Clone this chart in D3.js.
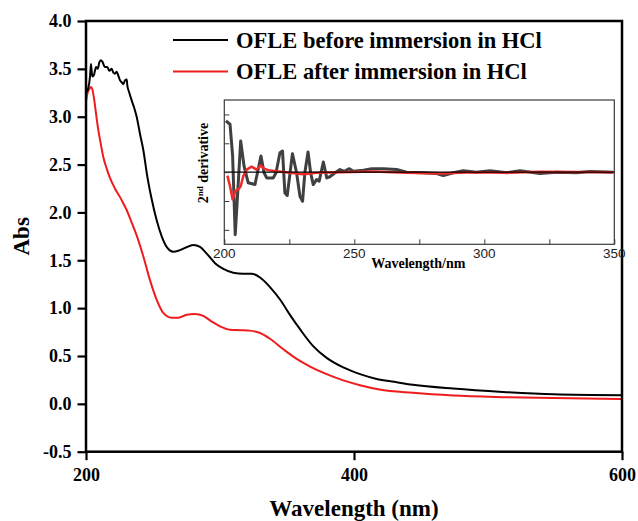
<!DOCTYPE html>
<html>
<head>
<meta charset="utf-8">
<script src="https://cdn.jsdelivr.net/npm/d3@7"></script>
<style>
  html, body { margin: 0; padding: 0; background: #fff; }
  svg { display: block; }
</style>
</head>
<body>
<svg id="chart" width="638" height="521"></svg>
<script>
// UV-Vis absorbance spectra of OFLE (wavelength in nm, absorbance)
const beforeWl = [200.5, 201.7, 203, 203.7, 204.7, 206, 207.5, 208.7, 210, 211, 212.4, 214, 215.9, 217.4, 219.2, 220.4, 221.6, 222.9, 224.1, 225.4, 226.6, 227.8, 229.1, 230.4, 230.8, 232.1, 234.1, 235.8, 237.8, 240.3, 242.8, 245.7, 249, 252.7, 256.5, 260.2, 265.2, 268.9, 273.9, 280.1, 285.1, 290.1, 296.3, 302.5, 309.9, 317.4, 323.6, 329.9, 337.3, 344.8, 352.2, 359.7, 369.7, 379.6, 392, 404.5, 416.9, 430, 444, 474, 511, 549, 600];
const beforeAbs = [3.26, 3.30, 3.42, 3.55, 3.42, 3.44, 3.52, 3.50, 3.57, 3.59, 3.57, 3.52, 3.52, 3.48, 3.50, 3.46, 3.45, 3.47, 3.43, 3.38, 3.36, 3.34, 3.38, 3.39, 3.33, 3.26, 3.17, 3.10, 3.00, 2.82, 2.65, 2.38, 2.14, 1.92, 1.75, 1.64, 1.59, 1.60, 1.63, 1.66, 1.64, 1.57, 1.47, 1.41, 1.37, 1.36, 1.36, 1.32, 1.22, 1.09, 0.93, 0.78, 0.60, 0.48, 0.38, 0.31, 0.26, 0.23, 0.20, 0.16, 0.125, 0.10, 0.09];

const afterWl = [200, 201, 202.5, 203.7, 205, 206.2, 207.5, 209.2, 211, 212.9, 215.4, 217.9, 221.6, 225.4, 228, 230.5, 232.8, 237.8, 242.8, 247.8, 252.7, 257.7, 263.9, 268.9, 275.1, 281.3, 287.5, 293.8, 300, 307.5, 315, 322.4, 329.9, 337.3, 347.3, 357.2, 367.2, 379.6, 392, 404.5, 419, 444, 474, 511, 549, 600];
const afterAbs = [3.16, 3.24, 3.29, 3.31, 3.27, 3.17, 3.03, 2.86, 2.72, 2.58, 2.46, 2.36, 2.25, 2.16, 2.09, 2.02, 1.94, 1.76, 1.54, 1.29, 1.09, 0.95, 0.90, 0.90, 0.93, 0.94, 0.92, 0.86, 0.81, 0.775, 0.77, 0.765, 0.74, 0.68, 0.57, 0.47, 0.39, 0.31, 0.245, 0.195, 0.15, 0.115, 0.087, 0.07, 0.06, 0.05];

// Second-derivative spectra (arbitrary units)
const derivBeforeWl = [200.6, 202.2, 203.2, 204.2, 205, 206.3, 207.6, 209.2, 211.8, 214.1, 215.3, 216.3, 218.8, 219.9, 221.4, 222.4, 223.3, 224.2, 225.3, 226.2, 227.8, 229.1, 230.1, 231, 232.2, 233.2, 234.2, 235.5, 236.5, 238.1, 239.4, 240.6, 242.6, 244.5, 246.2, 248.1, 249.6, 253.5, 256.7, 261.2, 266.3, 270.1, 276.5, 281.7, 284.2, 288.1, 291.9, 297, 302.2, 308.6, 313.7, 321.4, 327.8, 335.5, 340.6, 349.6];
const derivBefore = [1.78, 1.66, 0.56, -2.17, -0.95, 1.08, 0.21, -0.37, -0.43, 0.56, -0.02, -0.2, -0.2, -0.02, 0.67, 0.73, -0.72, -0.81, -0.02, 0.64, -0.02, -0.84, -1.01, 0, 0.70, -0.02, -0.43, -0.26, -0.31, 0.35, -0.2, -0.16, -0.02, 0.09, 0.03, 0.12, 0.03, 0.07, 0.12, 0.12, 0.09, 0, -0.02, -0.05, -0.12, -0.02, 0.05, 0, 0.05, -0.02, 0.05, -0.05, 0, -0.02, 0.02, 0];

const derivAfterWl = [201.2, 202.2, 203.2, 204.2, 205.4, 206.3, 207.3, 208.6, 210.5, 212.4, 214, 215.3, 216.9, 220.1, 225.3, 230.4, 235.5, 244.5, 257.3, 270.1, 283, 295.8, 308.6, 321.4, 349.6];
const derivAfter = [-0.12, -0.49, -0.95, -0.66, -0.6, -0.49, -0.14, 0.09, 0.19, 0.09, 0.23, 0.12, 0.07, 0.03, -0.02, -0.07, -0.02, 0, 0.02, -0.02, -0.05, 0, -0.02, 0.01, 0];

const xTicks = [200, 400, 600];
const yTicks = [-0.5, 0.0, 0.5, 1.0, 1.5, 2.0, 2.5, 3.0, 3.5, 4.0];
const insetXTicks = [200, 225, 250, 275, 300, 325, 350];
const insetXLabels = [200, 250, 300, 350];
const insetYTicks = [-2, -1, 0, 1, 2];

const seriesNames = ["OFLE before immersion in HCl", "OFLE after immersion in HCl"];
const seriesColors = ["#000000", "#ee1c1c"];

const serif = "'Liberation Serif', 'Times New Roman', serif";
const sans = "'Liberation Sans', Arial, sans-serif";

const svg = d3.select("#chart");

// Main plot
const x = d3.scaleLinear().domain([200, 600]).range([86, 622]);
const y = d3.scaleLinear().domain([-0.5, 4.0]).range([451.7, 21]);

const zip = (a, b) => a.map((v, i) => [v, b[i]]);

const line = d3.line().x(d => x(d[0])).y(d => y(d[1])).curve(d3.curveMonotoneX);

svg.append("path").datum(zip(afterWl, afterAbs))
  .attr("d", line).attr("fill", "none")
  .attr("stroke", seriesColors[1]).attr("stroke-width", 2);
svg.append("path").datum(zip(beforeWl, beforeAbs))
  .attr("d", line).attr("fill", "none")
  .attr("stroke", seriesColors[0]).attr("stroke-width", 2);

// Axes (hyphen-minus for negative labels)
const fmtY = d => d3.format(".1f")(d).replace("\u2212", "-");
const xAxis = svg.append("g").attr("transform", `translate(0,${y(-0.5)})`)
  .call(d3.axisBottom(x).tickValues(xTicks).tickSize(8.5).tickPadding(8).tickFormat(d3.format("d")));
const yAxis = svg.append("g").attr("transform", `translate(${x(200)},0)`)
  .call(d3.axisLeft(y).tickValues(yTicks).tickSize(8.5).tickPadding(6).tickFormat(fmtY));

[xAxis, yAxis].forEach(g => {
  g.select(".domain").remove();
  g.selectAll(".tick line").attr("stroke", "#000").attr("stroke-width", 2.2);
  g.selectAll(".tick text")
    .attr("fill", "#000")
    .style("font-family", serif)
    .style("font-weight", "bold")
    .style("font-size", "18px");
});

// Frame
svg.append("rect")
  .attr("x", x(200)).attr("y", y(4.0))
  .attr("width", x(600) - x(200)).attr("height", y(-0.5) - y(4.0))
  .attr("fill", "none").attr("stroke", "#000").attr("stroke-width", 2.5);

// Axis titles
svg.append("text")
  .attr("x", (x(200) + x(600)) / 2).attr("y", 516)
  .attr("text-anchor", "middle")
  .style("font-family", serif).style("font-weight", "bold").style("font-size", "23px")
  .text("Wavelength (nm)");
svg.append("text")
  .attr("transform", `translate(29,${(y(4) + y(-0.5)) / 2}) rotate(-90)`)
  .attr("text-anchor", "middle")
  .style("font-family", serif).style("font-weight", "bold").style("font-size", "23px")
  .text("Abs");

// Legend
const legend = svg.append("g");
seriesNames.forEach((name, i) => {
  const ly = 40 + i * 31.5;
  legend.append("line")
    .attr("x1", 173).attr("x2", 228).attr("y1", ly).attr("y2", ly)
    .attr("stroke", seriesColors[i]).attr("stroke-width", 2);
  legend.append("text")
    .attr("x", 236).attr("y", ly + 7.5)
    .style("font-family", serif).style("font-weight", "bold").style("font-size", "22.5px")
    .attr("fill", "#000")
    .text(name);
});

// Inset: second derivative
const ix = d3.scaleLinear().domain([200, 350]).range([224.3, 614.3]);
const iy = d3.scaleLinear().domain([-2.5, 2.5]).range([244.3, 100]);

const inset = svg.append("g");
inset.append("rect")
  .attr("x", ix(200)).attr("y", iy(2.5))
  .attr("width", ix(350) - ix(200)).attr("height", iy(-2.5) - iy(2.5))
  .attr("fill", "#fff").attr("stroke", "#3a3a3a").attr("stroke-width", 1.2);

const iline = d3.line().x(d => ix(d[0])).y(d => iy(d[1])).curve(d3.curveLinear);

inset.append("path").datum(zip(derivBeforeWl, derivBefore))
  .attr("d", iline).attr("fill", "none")
  .attr("stroke", "#404040").attr("stroke-width", 3).attr("stroke-linejoin", "round");
inset.append("path").datum(zip(derivAfterWl, derivAfter))
  .attr("d", iline).attr("fill", "none")
  .attr("stroke", "#ee2a2a").attr("stroke-width", 2.5).attr("stroke-linejoin", "round");

// Zero line
inset.append("line")
  .attr("x1", ix(200)).attr("x2", ix(350)).attr("y1", iy(0)).attr("y2", iy(0))
  .attr("stroke", "#000").attr("stroke-width", 1.3);

// Inset ticks (inward)
const ixAxis = inset.append("g").attr("transform", `translate(0,${iy(-2.5)})`)
  .call(d3.axisBottom(ix).tickValues(insetXTicks).tickSize(-5).tickFormat(""));
ixAxis.select(".domain").remove();
ixAxis.selectAll(".tick line").attr("stroke", "#3a3a3a");
const iyAxis = inset.append("g").attr("transform", `translate(${ix(200)},0)`)
  .call(d3.axisLeft(iy).tickValues(insetYTicks).tickSize(-5).tickFormat(""));
iyAxis.select(".domain").remove();
iyAxis.selectAll(".tick line").attr("stroke", "#3a3a3a");

inset.selectAll("text.ixlabel").data(insetXLabels).enter().append("text")
  .attr("class", "ixlabel")
  .attr("x", d => ix(d)).attr("y", iy(-2.5) + 14)
  .attr("text-anchor", "middle")
  .style("font-family", sans).style("font-size", "13.5px").attr("fill", "#222")
  .text(d => d);

inset.append("text")
  .attr("x", (ix(200) + ix(350)) / 2 - 1).attr("y", 268)
  .attr("text-anchor", "middle")
  .style("font-family", serif).style("font-weight", "bold").style("font-size", "14px")
  .text("Wavelength/nm");

const iyTitle = inset.append("text")
  .attr("transform", `translate(208,163) rotate(-90)`)
  .attr("text-anchor", "middle")
  .style("font-family", serif).style("font-weight", "bold").style("font-size", "14px");
iyTitle.append("tspan").text("2");
iyTitle.append("tspan").attr("dy", -5).style("font-size", "9px").text("nd");
iyTitle.append("tspan").attr("dy", 5).text(" derivative");
</script>
</body>
</html>
